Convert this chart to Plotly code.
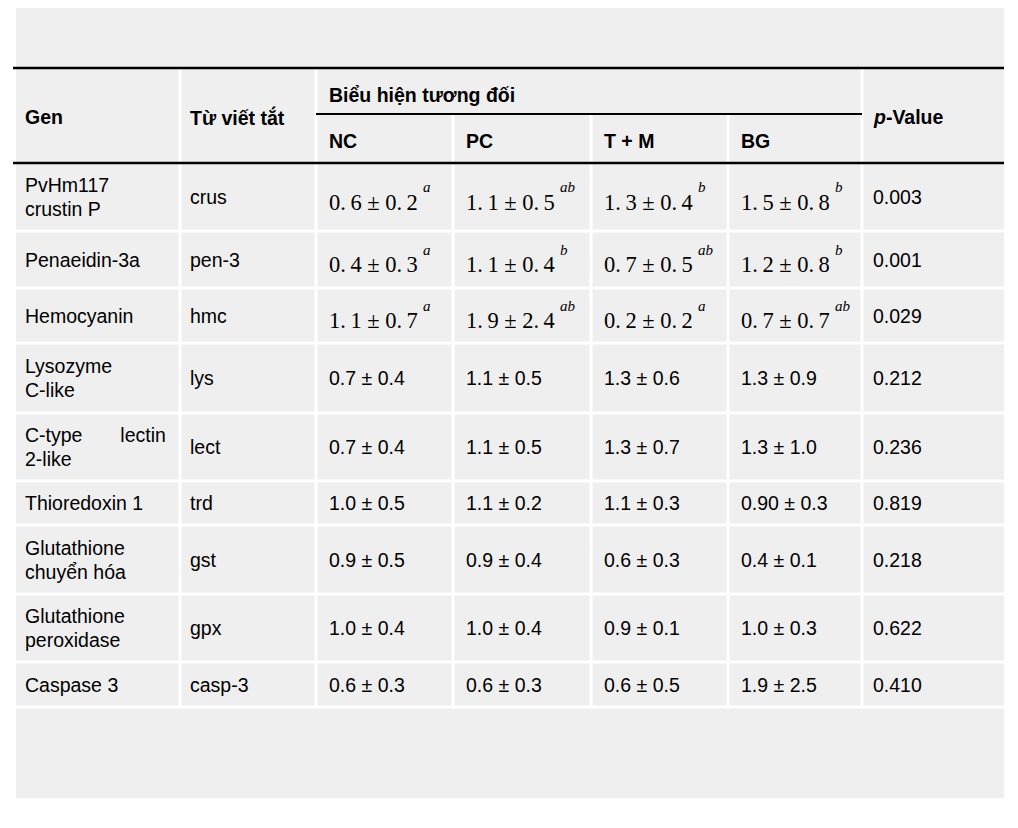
import plotly.graph_objects as go

# table content
genes = ["PvHm117<br>crustin P", "Penaeidin-3a", "Hemocyanin", "Lysozyme<br>C-like",
         "C-type\u00a0\u00a0\u00a0\u00a0\u00a0\u00a0\u00a0lectin<br>2-like", "Thioredoxin 1",
         "Glutathione<br>chuyển hóa", "Glutathione<br>peroxidase", "Caspase 3"]
abbrevs = ["crus", "pen-3", "hmc", "lys", "lect", "trd", "gst", "gpx", "casp-3"]
groups = ["NC", "PC", "T + M", "BG"]

nc_vals = ["0.6 ± 0.2", "0.4 ± 0.3", "1.1 ± 0.7", "0.7 ± 0.4", "0.7 ± 0.4",
           "1.0 ± 0.5", "0.9 ± 0.5", "1.0 ± 0.4", "0.6 ± 0.3"]
pc_vals = ["1.1 ± 0.5", "1.1 ± 0.4", "1.9 ± 2.4", "1.1 ± 0.5", "1.1 ± 0.5",
           "1.1 ± 0.2", "0.9 ± 0.4", "1.0 ± 0.4", "0.6 ± 0.3"]
tm_vals = ["1.3 ± 0.4", "0.7 ± 0.5", "0.2 ± 0.2", "1.3 ± 0.6", "1.3 ± 0.7",
           "1.1 ± 0.3", "0.6 ± 0.3", "0.9 ± 0.1", "0.6 ± 0.5"]
bg_vals = ["1.5 ± 0.8", "1.2 ± 0.8", "0.7 ± 0.7", "1.3 ± 0.9", "1.3 ± 1.0",
           "0.90 ± 0.3", "0.4 ± 0.1", "1.0 ± 0.3", "1.9 ± 2.5"]

nc_sig = ["a", "a", "a", "", "", "", "", "", ""]
pc_sig = ["ab", "b", "ab", "", "", "", "", "", ""]
tm_sig = ["b", "ab", "a", "", "", "", "", "", ""]
bg_sig = ["b", "b", "ab", "", "", "", "", "", ""]

p_values = ["0.003", "0.001", "0.029", "0.212", "0.236", "0.819", "0.218", "0.622", "0.410"]

# layout grid (page pixels)
col_edges = [16, 180, 316, 453, 591, 728, 862, 1004]
row_edges = [163, 231, 288, 343, 413, 481, 525, 594, 662, 707]
top_line, sub_line = 68, 114

GRAY = "#efefef"
SANS = "Liberation Sans, Arial, sans-serif"
SERIF = "Liberation Serif, Times New Roman, serif"
FS = 19.5
OFF = 8  # page body margin

fig = go.Figure()
shapes = []
annots = []

# gray panel
shapes.append(dict(type="rect", x0=16, x1=1004, y0=3, y1=798, fillcolor=GRAY, line_width=0, layer="below"))

# white gaps between cells
for y in row_edges[1:]:
    shapes.append(dict(type="line", x0=16, x1=1004, y0=y, y1=y, line=dict(color="white", width=3)))
for x in col_edges[1:-1]:
    y0 = top_line if x in (180, 316, 862) else sub_line
    shapes.append(dict(type="line", x0=x, x1=x, y0=y0, y1=row_edges[-1], line=dict(color="white", width=3)))

# black rules
shapes.append(dict(type="line", x0=13, x1=1004, y0=top_line, y1=top_line, line=dict(color="black", width=2.5)))
shapes.append(dict(type="line", x0=13, x1=1004, y0=row_edges[0], y1=row_edges[0], line=dict(color="black", width=2.5)))
shapes.append(dict(type="line", x0=316, x1=862, y0=sub_line, y1=sub_line, line=dict(color="black", width=2)))


def txt(x, y, s, size=FS, family=SANS):
    annots.append(dict(x=x, y=y, text=s, showarrow=False, xanchor="left", yanchor="middle",
                       font=dict(family=family, size=size, color="black")))


# header
txt(col_edges[0] + 7, 117, "<b>Gen</b>")
txt(col_edges[1] + 8, 117, "<b>Từ viết tắt</b>")
txt(col_edges[2] + 11, 95, "<b>Biểu hiện tương đối</b>")
for j, g in enumerate(groups):
    txt(col_edges[2 + j] + 11, 141, f"<b>{g}</b>")
txt(col_edges[6] + 9, 117, "<b><i>p</i>-Value</b>")

# body
cols = [(nc_vals, nc_sig), (pc_vals, pc_sig), (tm_vals, tm_sig), (bg_vals, bg_sig)]
for r in range(len(genes)):
    yc = (row_edges[r] + row_edges[r + 1]) / 2
    lines = genes[r].split("<br>")
    if len(lines) == 1:
        txt(col_edges[0] + 7, yc, lines[0])
    else:
        for k, ln in enumerate(lines):
            txt(col_edges[0] + 7, yc - 12 + 24 * k, ln)
    txt(col_edges[1] + 8, yc, abbrevs[r])
    for j, (vals, sig) in enumerate(cols):
        x = col_edges[2 + j] + 11
        if sig[r]:
            val = vals[r].replace(".", ".\u2009")
            txt(x, yc + 5, val, size=22.5, family=SERIF)
            txt(x + 94, yc - 10, f"<i>{sig[r]}</i>", size=15, family=SERIF)
        else:
            txt(x, yc, vals[r])
    txt(col_edges[6] + 9, yc, p_values[r])

W, H = 1002, 812
fig.update_layout(
    width=W, height=H,
    margin=dict(l=0, r=0, t=0, b=0),
    paper_bgcolor="white", plot_bgcolor="white",
    xaxis=dict(range=[OFF, OFF + W], visible=False, fixedrange=True),
    yaxis=dict(range=[OFF + H, OFF], visible=False, fixedrange=True),
    shapes=shapes, annotations=annots,
    showlegend=False,
)

fig.write_html("out.html", config={"displayModeBar": False})
